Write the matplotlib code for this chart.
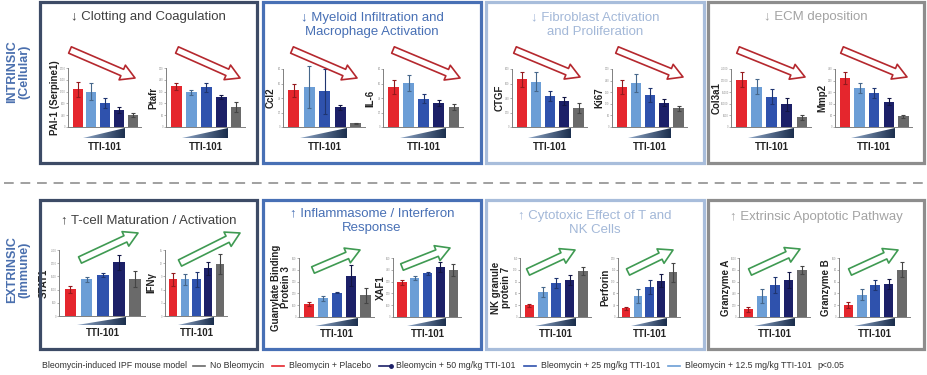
import numpy as np
import matplotlib.pyplot as plt
from matplotlib.patches import FancyArrowPatch, Rectangle, Polygon
from matplotlib.lines import Line2D
from matplotlib.colors import LinearSegmentedColormap, to_rgb
from matplotlib.ticker import MaxNLocator

plt.rcParams['font.family'] = ['Liberation Sans', 'DejaVu Sans']

W, H = 928, 375

# groups, in bar order
groups = ["Bleomycin + Placebo", "Bleomycin + 12.5 mg/kg TTI-101",
          "Bleomycin + 25 mg/kg TTI-101", "Bleomycin + 50 mg/kg TTI-101",
          "No Bleomycin"]
bar_colors = ["#e5262d", "#6c9ed6", "#2f52ad", "#1c2068", "#6a6a6a"]

# intrinsic (cellular) row
top_titles = ["↓ Clotting and Coagulation",
              "↓ Myeloid Infiltration and\nMacrophage Activation",
              "↓ Fibroblast Activation\nand Proliferation",
              "↓ ECM deposition"]
top_genes = ["PAI-1 (Serpine1)", "Ptafr", "Ccl2", "IL-6", "CTGF", "Ki67", "Col3a1", "Mmp2"]
top_means = [[1280, 1200, 820, 580, 400],
             [207, 177, 201, 153, 102],
             [51, 55, 49, 27, 5],
             [55, 61, 39, 33, 28],
             [660, 625, 430, 360, 265],
             [207, 227, 166, 126, 96],
             [20300, 17400, 13100, 9700, 4100],
             [337, 267, 237, 174, 74]]
top_errs = [[260, 280, 180, 100, 60],
            [18, 12, 24, 9, 27],
            [9, 29, 31, 3, 1],
            [10, 11, 6, 4, 4],
            [105, 130, 65, 55, 70],
            [36, 48, 36, 18, 15],
            [3200, 3300, 3300, 2600, 1000],
            [42, 35, 35, 24, 12]]
top_ymax = [2000, 300, 80, 80, 800, 300, 25000, 400]

# extrinsic (immune) row
bot_titles = ["↑ T-cell Maturation / Activation",
              "↑ Inflammasome / Interferon\nResponse",
              "↑ Cytotoxic Effect of T and\nNK Cells",
              "↑ Extrinsic Apoptotic Pathway"]
bot_genes = ["STAT1", "IFNγ", "Guanylate Binding\nProtein 3", "XAF1",
             "NK granule\nprotein 7", "Perforin", "Granzyme A", "Granzyme B"]
bot_means = [[1010, 1390, 1550, 2030, 1400],
             [8.3, 8.3, 8.3, 10.8, 11.8],
             [110, 157, 206, 351, 186],
             [295, 330, 372, 423, 400],
             [30, 64, 86, 94, 116],
             [29, 71, 103, 123, 151],
             [130, 350, 540, 630, 800],
             [20, 38, 54, 56, 80]]
bot_errs = [[120, 90, 60, 280, 290],
            [1.5, 1.2, 1.7, 1.5, 2.3],
            [13, 20, 4, 92, 64],
            [20, 20, 12, 40, 50],
            [4, 13, 13, 13, 10],
            [5, 23, 24, 22, 32],
            [40, 120, 140, 130, 70],
            [5, 9, 9, 9, 13]]
bot_ymax = [2500, 15, 500, 500, 150, 200, 1000, 100]

# ---- layout (pixels in the 928x375 image) ----
box_x = [(40, 257), (263, 481), (486, 704), (708, 924)]
top_box_y = (2, 163)
bot_box_y = (200, 349)
box_edge = ["#3d4b66", "#4870b5", "#a8bddb", "#8d8d8d"]
title_col = ["#404040", "#4870b5", "#a3b8d8", "#a3a3a3"]
top_title_y = [17, 25, 25, 17]
bot_title_y = [220, 221, 223, 217]

top_axes = [(68, 141, 68, 127), (166, 245, 68, 127), (283, 365, 69, 127), (383, 463, 69, 127),
            (512, 587, 69, 127), (612, 687, 69, 127), (731, 811, 69, 127), (835, 912, 69, 127)]
bot_axes = [(59, 145, 250, 316), (165, 227, 250, 316), (299, 374, 258, 317), (393, 461, 258, 317),
            (520, 591, 258, 317), (618, 680, 258, 317), (739, 810, 258, 317), (839, 910, 258, 317)]
top_label_gap = [7.5, 7.5, 7.5, 7.5, 7.5, 7.5, 9.5, 7.5]
bot_label_gap = [10.0, 9.0, 7.5, 7.5, 8.5, 7.5, 7.5, 7.5]
top_arrows = [((70, 50), (135, 78)), ((177, 50), (240, 78)), ((292, 50), (357, 78)), ((393, 50), (460, 78)),
              ((515, 50), (580, 77)), ((617, 50), (683, 77)), ((738, 50), (805, 77)), ((842, 50), (907, 77))]
bot_arrows = [((80, 260), (138, 233)), ((180, 263), (240, 233)), ((313, 270), (360, 250)), ((402, 267), (450, 248)),
              ((528, 272), (575, 250)), ((628, 272), (673, 250)), ((750, 272), (800, 249)), ((850, 272), (898, 250))]

XLIM = (-0.7, 4.6)

fig = plt.figure(figsize=(W / 100, H / 100), dpi=100)


def px_rect(l, r, t, b):
    return [l / W, 1 - b / H, (r - l) / W, (b - t) / H]


def fpt(x, y):
    return (x / W, 1 - y / H)


def darker(c, f=0.65):
    return tuple(v * f for v in to_rgb(c))


wedge_cmap = LinearSegmentedColormap.from_list("wedge", ["#8ea6c6", "#1a2d4c"])


def draw_wedge(l, r, t, b):
    wax = fig.add_axes(px_rect(l, r, t, b))
    wax.set_axis_off()
    grad = np.linspace(0, 1, 64).reshape(1, -1)
    im = wax.imshow(grad, cmap=wedge_cmap, extent=[0, 1, 0, 1], aspect='auto')
    tri = Polygon([[0, 0], [1, 0], [1, 1]], closed=True, transform=wax.transAxes,
                  facecolor='none', edgecolor='none')
    wax.add_patch(tri)
    im.set_clip_path(tri)
    wax.set_xlim(0, 1)
    wax.set_ylim(0, 1)


def draw_panel(rect, gene, means, errs, ymax, arrow, arrow_col, wedge_h, tti_off, gap):
    l, r, t, b = rect
    ax = fig.add_axes(px_rect(l, r, t, b))
    xs = np.arange(len(means))
    ax.bar(xs, means, width=0.72, color=bar_colors, zorder=2)
    for x, m, e, c in zip(xs, means, errs, bar_colors):
        ax.errorbar(x, m, yerr=e, fmt='none', ecolor=darker(c), elinewidth=0.8,
                    capsize=1.6, capthick=0.8, zorder=3, clip_on=False)
    ax.set_xlim(*XLIM)
    ax.set_ylim(0, ymax)
    ax.yaxis.set_major_locator(MaxNLocator(5, integer=True))
    ax.set_xticks([])
    for s in ['top', 'right']:
        ax.spines[s].set_visible(False)
    for s in ['left', 'bottom']:
        ax.spines[s].set_color('#808080')
        ax.spines[s].set_linewidth(0.7)
    ax.tick_params(axis='y', labelsize=1.9, length=1.2, width=0.5, pad=0.5,
                   colors='#909090')
    ax.set_ylabel(gene, fontsize=7, fontweight='bold', color='#222222',
                  linespacing=1.0)
    ax.yaxis.set_label_coords(-gap / (r - l), 0.5)
    ax.patch.set_alpha(0)

    # dose wedge + label under the axes
    to_px = lambda v: l + (v - XLIM[0]) / (XLIM[1] - XLIM[0]) * (r - l)
    draw_wedge(to_px(0.4), to_px(3.45), b + 1, b + 1 + wedge_h)
    fig.text(to_px(2.0) / W, 1 - (b + tti_off) / H, "TTI-101", fontsize=7,
             fontweight='bold', color='#222222', ha='center', va='center')

    (x0, y0), (x1, y1) = arrow
    fig.add_artist(FancyArrowPatch(fpt(x0, y0), fpt(x1, y1), transform=fig.transFigure,
                                   arrowstyle="simple,head_length=1.0,head_width=1.15,tail_width=0.5",
                                   mutation_scale=10, facecolor='white', edgecolor=arrow_col,
                                   linewidth=1.2, shrinkA=0, shrinkB=0, zorder=5))


for row, (by, titles, ty) in enumerate([(top_box_y, top_titles, top_title_y),
                                        (bot_box_y, bot_titles, bot_title_y)]):
    for i, (x0, x1) in enumerate(box_x):
        fig.add_artist(Rectangle(fpt(x0, by[1]), (x1 - x0) / W, (by[1] - by[0]) / H,
                                 transform=fig.transFigure, fill=False,
                                 edgecolor=box_edge[i], linewidth=2.3))
        fig.text((x0 + x1) / 2 / W, 1 - ty[i] / H, titles[i], fontsize=9.5,
                 color=title_col[i], ha='center', va='center', linespacing=1.3)

for i in range(8):
    draw_panel(top_axes[i], top_genes[i], top_means[i], top_errs[i], top_ymax[i],
               top_arrows[i], "#b5282e", 10, 20, top_label_gap[i])
    draw_panel(bot_axes[i], bot_genes[i], bot_means[i], bot_errs[i], bot_ymax[i],
               bot_arrows[i], "#3f9a52", 8, 17, bot_label_gap[i])

# side labels
fig.text(18 / W, 1 - 72 / H, "INTRINSIC\n(Cellular)", rotation=90, fontsize=9,
         fontweight='bold', color="#4a6fae", ha='center', va='center', linespacing=1.05)
fig.text(18 / W, 1 - 270 / H, "EXTRINSIC\n(Immune)", rotation=90, fontsize=9,
         fontweight='bold', color="#4a6fae", ha='center', va='center', linespacing=1.05)

# dashed separator
fig.add_artist(Line2D([4 / W, 925 / W], [1 - 183 / H] * 2, transform=fig.transFigure,
                      color='#a0a0a0', linewidth=1.4, linestyle=(0, (5, 3.5))))

# legend line along the bottom
renderer = fig.canvas.get_renderer()
legend_order = [4, 0, 3, 2, 1]
ly = 1 - 366 / H
cur = 42


def put_text(s, x):
    t = fig.text(x / W, ly, s, fontsize=6.3, color='#333333', va='center', ha='left')
    return t.get_window_extent(renderer).width


cur += put_text("Bleomycin-induced IPF mouse model", cur) + 6
for gi in legend_order:
    fig.add_artist(Line2D([cur / W, (cur + 12) / W], [ly, ly], transform=fig.transFigure,
                          color=bar_colors[gi], linewidth=1.2,
                          marker='o' if gi == 3 else None, markersize=2.5,
                          markevery=[1] if gi == 3 else None))
    cur += 17
    cur += put_text(groups[gi], cur) + 8
put_text("p<0.05", cur - 3)

fig.savefig("out.png", dpi=100)
